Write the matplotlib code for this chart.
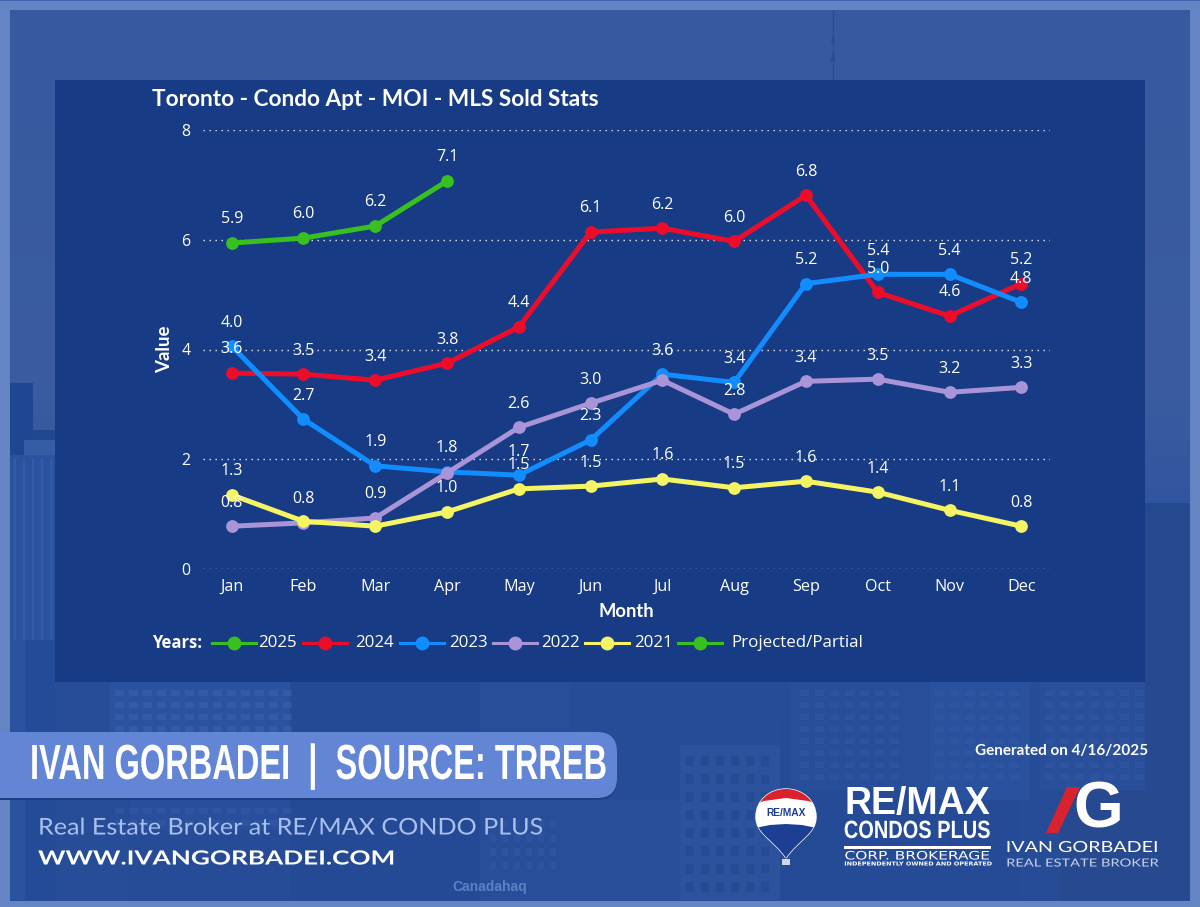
#!/usr/bin/env python3
"""Toronto condo apartment MOI chart, with the branded background around it."""

import numpy as np
import matplotlib
matplotlib.use("Agg")
import matplotlib.pyplot as plt
from matplotlib.colors import to_rgb
from matplotlib.lines import Line2D
from matplotlib.patches import FancyBboxPatch, PathPatch, Polygon, Rectangle
from matplotlib.path import Path
from matplotlib.patheffects import AbstractPathEffect
from matplotlib.transforms import Affine2D

MONTHS = ["Jan", "Feb", "Mar", "Apr", "May", "Jun", "Jul", "Aug", "Sep", "Oct", "Nov", "Dec"]

VALUES_2025 = [5.94, 6.03, 6.25, 7.07]
VALUES_2024 = [3.57, 3.55, 3.44, 3.75, 4.41, 6.14, 6.21, 5.97, 6.81, 5.04, 4.61, 5.20]
VALUES_2023 = [4.06, 2.73, 1.88, 1.77, 1.71, 2.35, 3.55, 3.40, 5.20, 5.37, 5.37, 4.86]
VALUES_2022 = [0.78, 0.84, 0.93, 1.75, 2.58, 3.02, 3.44, 2.82, 3.42, 3.46, 3.22, 3.31]
VALUES_2021 = [1.35, 0.87, 0.78, 1.04, 1.46, 1.51, 1.64, 1.48, 1.60, 1.40, 1.07, 0.78]

# what the chart prints; None where the label was dropped for overlapping
LABELS_2025 = ["5.9", "6.0", "6.2", "7.1"]
LABELS_2024 = ["3.6", "3.5", "3.4", "3.8", "4.4", "6.1", "6.2", "6.0", "6.8", "5.0", "4.6", "5.2"]
LABELS_2023 = ["4.0", "2.7", "1.9", "1.8", "1.7", "2.3", "3.6", "3.4", "5.2", "5.4", "5.4", "4.8"]
LABELS_2022 = ["0.8", "0.8", "0.9", None, "2.6", "3.0", None, "2.8", "3.4", "3.5", "3.2", "3.3"]
LABELS_2021 = ["1.3", None, None, "1.0", "1.5", "1.5", "1.6", "1.5", "1.6", "1.4", "1.1", "0.8"]

YEARS = ["2025", "2024", "2023", "2022", "2021"]
COLORS = ["#37c01f", "#ee0c2b", "#118dff", "#a994d8", "#f5f563"]
SERIES = [VALUES_2025, VALUES_2024, VALUES_2023, VALUES_2022, VALUES_2021]
LABELS = [LABELS_2025, LABELS_2024, LABELS_2023, LABELS_2022, LABELS_2021]

LEGEND_NAMES = YEARS + ["Projected/Partial"]
LEGEND_COLORS = COLORS + ["#37c01f"]
LEGEND_HANDLE_X = [212, 303, 400, 493, 585, 678]
LEGEND_TEXT_X = [258, 355, 449, 541, 634, 731]

W, H = 1200, 907
UI_FONT = "Open Sans"
TITLE_FONT = "Lato"


class XScale(AbstractPathEffect):
    """Stretch or squeeze a text sideways around a pixel x (no condensed fonts here)."""

    def __init__(self, sx, x0):
        super().__init__()
        self.sx = sx
        self.x0 = x0

    def draw_path(self, renderer, gc, tpath, affine, rgbFace=None):
        squeeze = Affine2D().translate(-self.x0, 0).scale(self.sx, 1).translate(self.x0, 0)
        renderer.draw_path(gc, tpath, affine + squeeze, rgbFace)


fig = plt.figure(figsize=(W / 100, H / 100), dpi=100)

# =============================================================================
# Background, in pixel coordinates
# =============================================================================
bg = fig.add_axes([0, 0, 1, 1], zorder=0)
bg.axis("off")

stops_y = [10, 380, 520, 700, 900]
stops_c = [to_rgb(c) for c in ["#36599f", "#3b5c9f", "#2f55a0", "#264c98", "#274c99"]]
rows = np.arange(H)
grad = np.stack([np.interp(rows, stops_y, [c[i] for c in stops_c]) for i in range(3)], axis=1)
bg.imshow(grad[:, None, :], extent=(0, W, H, 0), aspect="auto", zorder=0)
bg.set_xlim(0, W)
bg.set_ylim(H, 0)


def rect(x0, y0, x1, y1, color, alpha=1.0, z=1):
    bg.add_patch(Rectangle((x0, y0), x1 - x0, y1 - y0, fc=color, ec="none", alpha=alpha, zorder=z))


def label(x, y, s, size, color="white", weight="normal", family=TITLE_FONT, ha="left", sx=None, z=6):
    t = bg.text(x, y, s, color=color, fontsize=size, fontweight=weight, family=family, ha=ha, va="center", zorder=z)
    if sx is not None:
        t.set_path_effects([XScale(sx, x)])
    return t


# skyline blocks
for x0, y0, x1, y1, c in [
    (10, 383, 33, 455, "#1f4692"), (33, 430, 55, 440, "#20488f"), (24, 440, 55, 455, "#365ca6"),
    (10, 455, 55, 900, "#2a529f"), (25, 640, 55, 900, "#234b97"),
    (1145, 503, 1190, 512, "#23498f"), (1145, 512, 1190, 900, "#27498f"),
    (55, 682, 130, 900, "#274d99"), (110, 682, 290, 735, "#2b529f"), (130, 800, 290, 830, "#294f9c"),
    (290, 682, 480, 900, "#244a96"), (480, 682, 570, 900, "#284e9a"), (570, 800, 680, 900, "#294f9b"),
    (680, 745, 780, 900, "#2c529d"), (780, 720, 1020, 900, "#254b97"),
    (790, 682, 930, 790, "#284e9a"), (930, 682, 1030, 800, "#2a519d"), (1040, 682, 1145, 790, "#294f9b"),
    (1060, 790, 1145, 900, "#26498f"),
]:
    rect(x0, y0, x1, y1, c)

# window grids and stripes
for x in np.arange(14, 55, 9):
    rect(x, 458, x + 2, 640, "#4268b2", 0.45, 2)
for y in np.arange(690, 732, 12):
    for x in np.arange(115, 285, 14):
        rect(x, y, x + 9, y + 6, "#4c72bb", 0.3, 2)
for y in np.arange(808, 830, 12):
    for x in np.arange(115, 285, 14):
        rect(x, y, x + 9, y + 6, "#4c72bb", 0.2, 2)
for y in np.arange(756, 900, 18):
    for x in np.arange(686, 775, 15):
        rect(x, y, x + 8, y + 10, "#1f4589", 0.5, 2)
for y in np.arange(690, 780, 12):
    for x in list(np.arange(800, 905, 15)) + list(np.arange(935, 1025, 15)) + list(np.arange(1045, 1140, 15)):
        rect(x, y, x + 9, y + 6, "#4a70b8", 0.16, 2)
for y in np.arange(820, 875, 14):
    for x in np.arange(490, 560, 12):
        rect(x, y, x + 6, y + 8, "#4a70b8", 0.16, 2)
label(490, 887, "Canadahaq", 10, color="#5d80c4", weight="bold", family="Liberation Sans", ha="center", z=2)

# tower spire above the panel
bg.plot([833, 833], [10, 80], color="#2a4c92", lw=1.0, zorder=2)
bg.add_patch(Polygon([(831, 44), (833, 34), (835, 44)], fc="#2a4c92", ec="none", zorder=2))
bg.add_patch(Polygon([(830, 62), (833, 52), (836, 62)], fc="#2a4c92", ec="none", zorder=2))

# light frame
frame = "#6484c4"
rect(0, 0, W, 10, frame, z=3)
rect(0, 901, W, H, frame, z=3)
rect(0, 0, 10, H, frame, z=3)
rect(1190, 0, W, H, frame, z=3)
rect(0, 0, W, 1, "#3f63ad", z=3)

# chart panel
rect(55, 80, 1145, 682, "#173c85", z=4)

# name banner
bg.add_patch(FancyBboxPatch((-40, 735), 657, 65, boxstyle="round,pad=0,rounding_size=20",
                            fc="#1d3f85", ec="none", zorder=5))
bg.add_patch(FancyBboxPatch((-40, 732), 657, 66, boxstyle="round,pad=0,rounding_size=20",
                            fc="#6385d6", ec="none", zorder=5))
label(30, 767, "IVAN GORBADEI  |  SOURCE: TRREB", 35.5, weight="bold", family="Liberation Sans", sx=0.661)
label(38, 828, "Real Estate Broker at RE/MAX CONDO PLUS", 16.6, color="#a9c0ee", sx=1.09)
label(38, 859, "WWW.IVANGORBADEI.COM", 14, weight="bold", sx=1.345)
label(975, 751, "Generated on 4/16/2025", 11, weight="bold")

# balloon logo
balloon = Path(
    [(786, 858), (774, 840), (756, 834), (756, 817), (756, 800), (770, 789), (786, 789),
     (802, 789), (816, 800), (816, 817), (816, 834), (798, 840), (786, 858)],
    [Path.MOVETO] + [Path.CURVE4] * 12,
)
bg.add_patch(PathPatch(balloon, fc="white", ec="white", lw=1, zorder=6))
top_part = Polygon([(750, 785), (822, 785), (822, 806), (808, 801), (786, 798), (764, 801), (750, 806)],
                   fc="#d8232f", ec="none", zorder=7)
low_part = Polygon([(750, 829), (770, 825), (786, 824), (802, 825), (822, 829), (822, 862), (750, 862)],
                   fc="#1c3f94", ec="none", zorder=7)
for part in (top_part, low_part):
    bg.add_patch(part)
    part.set_clip_path(PathPatch(balloon, transform=bg.transData))
label(786, 813, "RE/MAX", 7.4, color="#1c3f94", weight="bold", family="Liberation Sans", ha="center", z=8)
rect(782, 859, 790, 865, "#cfd6e6", z=7)

# brokerage logo
label(917, 804, "RE/MAX", 27, weight="bold", family="Liberation Sans", ha="center")
label(917, 831, "CONDOS PLUS", 18, weight="bold", family="Liberation Sans", ha="center", sx=0.8)
rect(844, 846, 991, 848.5, "white", z=6)
label(917, 856, "CORP. BROKERAGE", 8.4, family="DejaVu Sans", ha="center", sx=1.32)
label(917, 864, "INDEPENDENTLY OWNED AND OPERATED", 3.9, weight="bold", family="DejaVu Sans", ha="center", sx=1.19)

# personal logo
label(1098, 810, "G", 46, weight="bold", family="Liberation Sans", ha="center")
bg.add_patch(Polygon([(1067, 787), (1080, 787), (1058, 833), (1046, 833)], fc="#d8232f", ec="none", zorder=7))
label(1082, 848, "IVAN GORBADEI", 11, ha="center", sx=1.29)
label(1082, 863, "REAL ESTATE BROKER", 8, color="#c7d3ee", ha="center", sx=1.32)

# =============================================================================
# Chart
# =============================================================================
ax = fig.add_axes([203 / W, 1 - 569 / H, (1050 - 203) / W, (569 - 130) / H], zorder=2)
ax.patch.set_alpha(0)
ax.set_xlim(-0.4, 11.4)
ax.set_ylim(0, 8)
for spine in ax.spines.values():
    spine.set_visible(False)

ax.set_yticks([0, 2, 4, 6, 8])
ax.set_xticks(range(len(MONTHS)))
ax.set_xticklabels(MONTHS, family=UI_FONT, fontsize=11.6, color="white")
ax.tick_params(axis="x", length=0, pad=7)
ax.tick_params(axis="y", length=0, pad=9, labelcolor="white", labelsize=11.4)
for lab in ax.get_yticklabels():
    lab.set_family(UI_FONT)
ax.yaxis.grid(True, color="white", lw=1.0, linestyle=(0, (1, 3.32)), alpha=0.9)
ax.set_axisbelow(True)

ax.set_xlabel("Month", family=TITLE_FONT, fontsize=13.2, fontweight="bold", color="white", labelpad=6)
ax.set_ylabel("Value", family=TITLE_FONT, fontsize=13.4, fontweight="bold", color="white", labelpad=6)

for i, (year, vals, color) in enumerate(zip(YEARS, SERIES, COLORS)):
    ax.plot(range(len(vals)), vals, color=color, lw=3.6, marker="o", ms=9.2, mec="none",
            solid_capstyle="round", zorder=3 + i, clip_on=False)

for vals, labs in zip(SERIES, LABELS):
    for x, (v, lab) in enumerate(zip(vals, labs)):
        if lab is None:
            continue
        ax.annotate(lab, (x, v), xytext=(0, 17.0), textcoords="offset points", ha="center", va="center",
                    color="white", fontsize=11.5, family=UI_FONT, zorder=12)

# title and legend sit on the panel
label(152, 99.5, "Toronto - Condo Apt - MOI - MLS Sold Stats", 16.3, weight="bold")

label(152, 643, "Years:", 12, weight="bold", family=UI_FONT)
for name, color, hx, tx in zip(LEGEND_NAMES, LEGEND_COLORS, LEGEND_HANDLE_X, LEGEND_TEXT_X):
    bg.add_line(Line2D([hx, hx + 44], [642.5, 642.5], color=color, lw=2.2, zorder=6))
    bg.add_line(Line2D([hx + 22], [642.5], color=color, marker="o", ms=10, mec="none", zorder=6))
    label(tx, 643, name, 12.2, family=UI_FONT)

fig.savefig("out.png", dpi=100)
